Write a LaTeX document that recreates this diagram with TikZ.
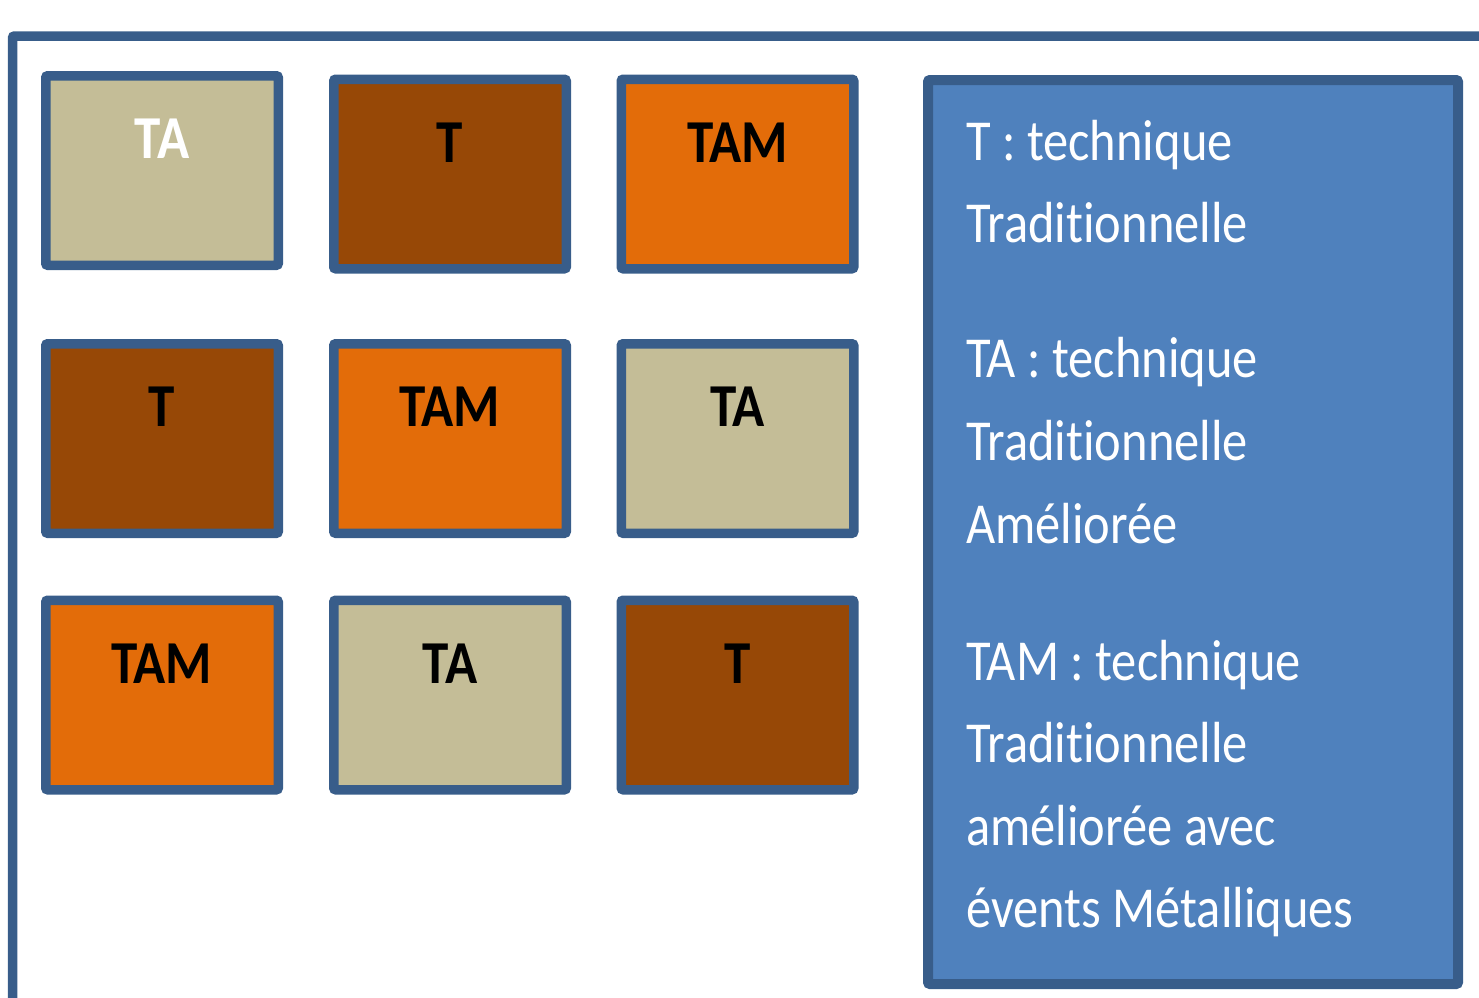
\documentclass[tikz,border=0pt]{standalone}
\usepackage{fontspec}
\setmainfont{Carlito}[FakeStretch=0.87, RawFeature={-liga;-clig;-calt;-dlig}]
\definecolor{frameblue}{HTML}{385D8A}
\definecolor{legendblue}{HTML}{4F81BD}
\definecolor{tan}{HTML}{C4BD97}
\definecolor{brownT}{HTML}{974806}
\definecolor{orangeTAM}{HTML}{E36C09}
\tikzset{
  cell/.style={rectangle, draw=frameblue, line width=9.5pt, rounded corners=2pt,
    minimum width=232.5pt, minimum height=189.5pt, inner sep=0pt},
  cellTA/.style={cell, fill=tan},
  cellT/.style={cell, fill=brownT},
  cellTAM/.style={cell, fill=orangeTAM},
  celltext/.style={anchor=base, inner sep=0pt, font=\fontsize{61}{61}\selectfont\bfseries},
  legline/.style={anchor=base west, inner sep=0pt, text=white, font=\fontsize{58}{58}\selectfont},
}
\begin{document}
\begin{tikzpicture}[x=1pt, y=-1pt]
\useasboundingbox (0,0) rectangle (1479,997);
% outer frame (extends past the right and bottom edges)
\draw[frameblue, line width=9.5pt, rounded corners=2pt] (12.5,1010) -- (12.5,36) -- (1490,36);
% grid of cells
\node[cellTA]  (b11) at (162,170.5) {};
\node[cellT]   (b12) at (450,174) {};
\node[cellTAM] (b13) at (737.5,174) {};
\node[cellT]   (b21) at (162,438.5) {};
\node[cellTAM] (b22) at (450,438.5) {};
\node[cellTA]  (b23) at (737.5,438.5) {};
\node[cellTAM] (b31) at (162,695) {};
\node[cellTA]  (b32) at (450,695) {};
\node[cellT]   (b33) at (737.5,695) {};
% cell texts
\node[celltext, text=white] (t11) at (162,158) {TA};
\node[celltext] (t12) at (450,162) {T};
\node[celltext] (t13) at (737.5,162) {TAM};
\node[celltext] (t21) at (162,426) {T};
\node[celltext] (t22) at (450,426) {TAM};
\node[celltext] (t23) at (737.5,426) {TA};
\node[celltext] (t31) at (162,683) {TAM};
\node[celltext] (t32) at (450,683) {TA};
\node[celltext] (t33) at (737.5,683) {T};
% legend
\node[rectangle, draw=frameblue, fill=legendblue, line width=10pt, rounded corners=2pt,
  minimum width=530pt, minimum height=904pt, inner sep=0pt] (legend) at (1193,532) {};
\node[legline] (l1) at (966,160) {T : technique};
\node[legline] (l2) at (966,242.5) {Traditionnelle};
\node[legline] (l3) at (966,377) {TA : technique};
\node[legline] (l4) at (966,460) {Traditionnelle};
\node[legline] (l5) at (966,543) {Améliorée};
\node[legline] (l6) at (966,680) {TAM : technique};
\node[legline] (l7) at (966,762) {Traditionnelle};
\node[legline] (l8) at (966,845) {améliorée avec};
\node[legline] (l9) at (966,927) {évents Métalliques};
\end{tikzpicture}
\end{document}
